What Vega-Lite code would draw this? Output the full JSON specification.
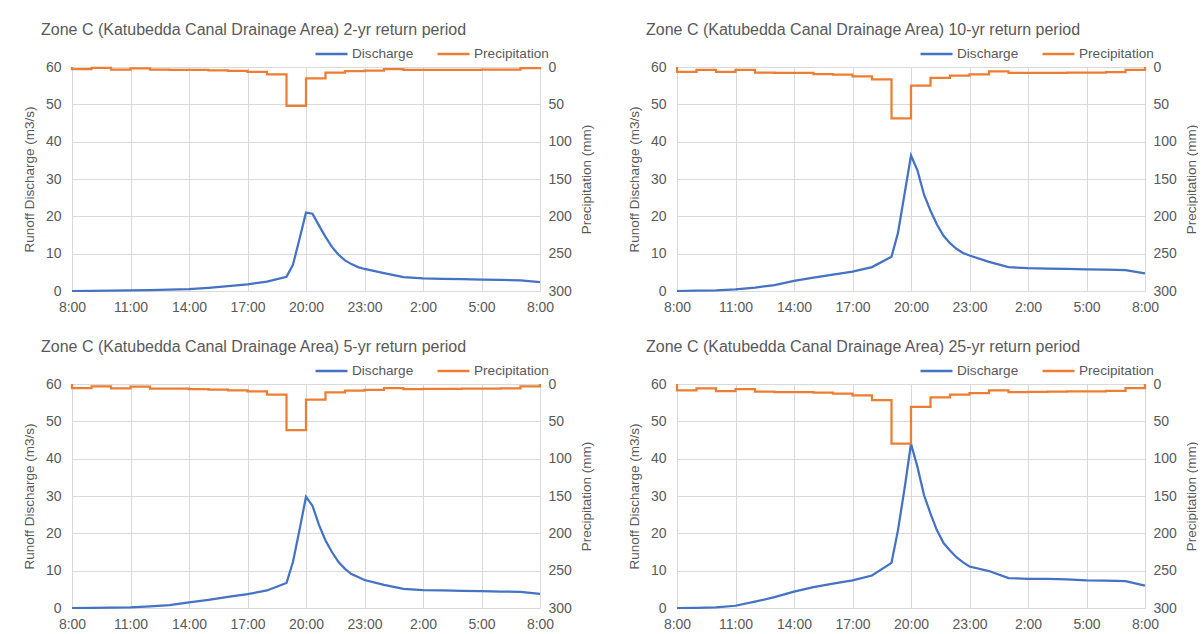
{
  "$schema": "https://vega.github.io/schema/vega-lite/v6.json",
  "padding": {"left": 22, "top": 22, "right": 0, "bottom": 0},
  "background": "white",
  "datasets": {
    "q": [
      {"p":"2-yr","t":0,"q":0},{"p":"2-yr","t":1,"q":0.05},{"p":"2-yr","t":2,"q":0.1},{"p":"2-yr","t":3,"q":0.15},{"p":"2-yr","t":4,"q":0.25},{"p":"2-yr","t":5,"q":0.35},{"p":"2-yr","t":6,"q":0.5},{"p":"2-yr","t":7,"q":0.85},{"p":"2-yr","t":8,"q":1.3},{"p":"2-yr","t":9,"q":1.8},{"p":"2-yr","t":10,"q":2.5},{"p":"2-yr","t":11,"q":3.8},{"p":"2-yr","t":11.33,"q":7.0},{"p":"2-yr","t":11.67,"q":14.0},{"p":"2-yr","t":12,"q":21.0},{"p":"2-yr","t":12.33,"q":20.7},{"p":"2-yr","t":12.67,"q":17.5},{"p":"2-yr","t":13,"q":14.5},{"p":"2-yr","t":13.33,"q":11.8},{"p":"2-yr","t":13.67,"q":9.7},{"p":"2-yr","t":14,"q":8.2},{"p":"2-yr","t":14.33,"q":7.2},{"p":"2-yr","t":14.67,"q":6.4},{"p":"2-yr","t":15,"q":5.9},{"p":"2-yr","t":16,"q":4.8},{"p":"2-yr","t":17,"q":3.7},{"p":"2-yr","t":18,"q":3.4},{"p":"2-yr","t":19,"q":3.25},{"p":"2-yr","t":20,"q":3.15},{"p":"2-yr","t":21,"q":3.05},{"p":"2-yr","t":22,"q":2.95},{"p":"2-yr","t":23,"q":2.85},{"p":"2-yr","t":24,"q":2.4},
      {"p":"5-yr","t":0,"q":0},{"p":"5-yr","t":1,"q":0.05},{"p":"5-yr","t":2,"q":0.1},{"p":"5-yr","t":3,"q":0.2},{"p":"5-yr","t":4,"q":0.45},{"p":"5-yr","t":5,"q":0.8},{"p":"5-yr","t":6,"q":1.5},{"p":"5-yr","t":7,"q":2.2},{"p":"5-yr","t":8,"q":3.0},{"p":"5-yr","t":9,"q":3.7},{"p":"5-yr","t":10,"q":4.7},{"p":"5-yr","t":11,"q":6.7},{"p":"5-yr","t":11.33,"q":12.3},{"p":"5-yr","t":11.67,"q":21.0},{"p":"5-yr","t":12,"q":29.8},{"p":"5-yr","t":12.33,"q":27.4},{"p":"5-yr","t":12.67,"q":22.2},{"p":"5-yr","t":13,"q":18.1},{"p":"5-yr","t":13.33,"q":15.0},{"p":"5-yr","t":13.67,"q":12.3},{"p":"5-yr","t":14,"q":10.5},{"p":"5-yr","t":14.33,"q":9.1},{"p":"5-yr","t":14.67,"q":8.3},{"p":"5-yr","t":15,"q":7.5},{"p":"5-yr","t":16,"q":6.2},{"p":"5-yr","t":17,"q":5.1},{"p":"5-yr","t":18,"q":4.8},{"p":"5-yr","t":19,"q":4.7},{"p":"5-yr","t":20,"q":4.6},{"p":"5-yr","t":21,"q":4.5},{"p":"5-yr","t":22,"q":4.4},{"p":"5-yr","t":23,"q":4.3},{"p":"5-yr","t":24,"q":3.8},
      {"p":"10-yr","t":0,"q":0},{"p":"10-yr","t":1,"q":0.1},{"p":"10-yr","t":2,"q":0.2},{"p":"10-yr","t":3,"q":0.45},{"p":"10-yr","t":4,"q":0.9},{"p":"10-yr","t":5,"q":1.6},{"p":"10-yr","t":6,"q":2.7},{"p":"10-yr","t":7,"q":3.6},{"p":"10-yr","t":8,"q":4.4},{"p":"10-yr","t":9,"q":5.2},{"p":"10-yr","t":10,"q":6.4},{"p":"10-yr","t":11,"q":9.2},{"p":"10-yr","t":11.33,"q":15.5},{"p":"10-yr","t":11.67,"q":26.0},{"p":"10-yr","t":12,"q":36.3},{"p":"10-yr","t":12.33,"q":32.3},{"p":"10-yr","t":12.67,"q":25.8},{"p":"10-yr","t":13,"q":21.5},{"p":"10-yr","t":13.33,"q":17.8},{"p":"10-yr","t":13.67,"q":14.8},{"p":"10-yr","t":14,"q":12.8},{"p":"10-yr","t":14.33,"q":11.3},{"p":"10-yr","t":14.67,"q":10.2},{"p":"10-yr","t":15,"q":9.5},{"p":"10-yr","t":16,"q":7.8},{"p":"10-yr","t":17,"q":6.4},{"p":"10-yr","t":18,"q":6.1},{"p":"10-yr","t":19,"q":6.0},{"p":"10-yr","t":20,"q":5.9},{"p":"10-yr","t":21,"q":5.8},{"p":"10-yr","t":22,"q":5.7},{"p":"10-yr","t":23,"q":5.6},{"p":"10-yr","t":24,"q":4.7},
      {"p":"25-yr","t":0,"q":0},{"p":"25-yr","t":1,"q":0.05},{"p":"25-yr","t":2,"q":0.15},{"p":"25-yr","t":3,"q":0.6},{"p":"25-yr","t":4,"q":1.7},{"p":"25-yr","t":5,"q":2.9},{"p":"25-yr","t":6,"q":4.4},{"p":"25-yr","t":7,"q":5.6},{"p":"25-yr","t":8,"q":6.5},{"p":"25-yr","t":9,"q":7.4},{"p":"25-yr","t":10,"q":8.7},{"p":"25-yr","t":11,"q":12.1},{"p":"25-yr","t":11.33,"q":20.8},{"p":"25-yr","t":11.67,"q":32.0},{"p":"25-yr","t":12,"q":44.0},{"p":"25-yr","t":12.33,"q":37.8},{"p":"25-yr","t":12.67,"q":30.2},{"p":"25-yr","t":13,"q":25.3},{"p":"25-yr","t":13.33,"q":20.8},{"p":"25-yr","t":13.67,"q":17.4},{"p":"25-yr","t":14,"q":15.4},{"p":"25-yr","t":14.33,"q":13.6},{"p":"25-yr","t":14.67,"q":12.2},{"p":"25-yr","t":15,"q":11.1},{"p":"25-yr","t":16,"q":9.9},{"p":"25-yr","t":17,"q":8.0},{"p":"25-yr","t":18,"q":7.8},{"p":"25-yr","t":19,"q":7.8},{"p":"25-yr","t":20,"q":7.7},{"p":"25-yr","t":21,"q":7.4},{"p":"25-yr","t":22,"q":7.3},{"p":"25-yr","t":23,"q":7.2},{"p":"25-yr","t":24,"q":6.0}
    ],
    "r": [
      {"p":"2-yr","t":0,"mm":0},{"p":"2-yr","t":0,"mm":2.7},{"p":"2-yr","t":1,"mm":1.3},{"p":"2-yr","t":2,"mm":3.4},{"p":"2-yr","t":3,"mm":2.0},{"p":"2-yr","t":4,"mm":3.6},{"p":"2-yr","t":5,"mm":4.0},{"p":"2-yr","t":6,"mm":4.0},{"p":"2-yr","t":7,"mm":4.5},{"p":"2-yr","t":8,"mm":5.2},{"p":"2-yr","t":9,"mm":6.5},{"p":"2-yr","t":10,"mm":9.9},{"p":"2-yr","t":11,"mm":52.2},{"p":"2-yr","t":12,"mm":15.2},{"p":"2-yr","t":13,"mm":7.4},{"p":"2-yr","t":14,"mm":5.4},{"p":"2-yr","t":15,"mm":4.8},{"p":"2-yr","t":16,"mm":2.9},{"p":"2-yr","t":17,"mm":3.8},{"p":"2-yr","t":18,"mm":3.8},{"p":"2-yr","t":19,"mm":3.8},{"p":"2-yr","t":20,"mm":3.7},{"p":"2-yr","t":21,"mm":3.6},{"p":"2-yr","t":22,"mm":3.4},{"p":"2-yr","t":23,"mm":1.5},{"p":"2-yr","t":24,"mm":0},
      {"p":"5-yr","t":0,"mm":0},{"p":"5-yr","t":0,"mm":5.4},{"p":"5-yr","t":1,"mm":3.1},{"p":"5-yr","t":2,"mm":5.8},{"p":"5-yr","t":3,"mm":3.6},{"p":"5-yr","t":4,"mm":6.3},{"p":"5-yr","t":5,"mm":6.3},{"p":"5-yr","t":6,"mm":6.7},{"p":"5-yr","t":7,"mm":7.6},{"p":"5-yr","t":8,"mm":8.5},{"p":"5-yr","t":9,"mm":9.9},{"p":"5-yr","t":10,"mm":14.3},{"p":"5-yr","t":11,"mm":61.9},{"p":"5-yr","t":12,"mm":21.0},{"p":"5-yr","t":13,"mm":11.2},{"p":"5-yr","t":14,"mm":9.0},{"p":"5-yr","t":15,"mm":8.0},{"p":"5-yr","t":16,"mm":5.4},{"p":"5-yr","t":17,"mm":6.7},{"p":"5-yr","t":18,"mm":6.5},{"p":"5-yr","t":19,"mm":6.4},{"p":"5-yr","t":20,"mm":6.3},{"p":"5-yr","t":21,"mm":6.2},{"p":"5-yr","t":22,"mm":6.0},{"p":"5-yr","t":23,"mm":3.1},{"p":"5-yr","t":24,"mm":0},
      {"p":"10-yr","t":0,"mm":0},{"p":"10-yr","t":0,"mm":6.5},{"p":"10-yr","t":1,"mm":4.0},{"p":"10-yr","t":2,"mm":6.5},{"p":"10-yr","t":3,"mm":4.0},{"p":"10-yr","t":4,"mm":7.5},{"p":"10-yr","t":5,"mm":8.0},{"p":"10-yr","t":6,"mm":8.0},{"p":"10-yr","t":7,"mm":9.4},{"p":"10-yr","t":8,"mm":10.3},{"p":"10-yr","t":9,"mm":12.5},{"p":"10-yr","t":10,"mm":16.5},{"p":"10-yr","t":11,"mm":68.8},{"p":"10-yr","t":12,"mm":25.0},{"p":"10-yr","t":13,"mm":14.5},{"p":"10-yr","t":14,"mm":11.6},{"p":"10-yr","t":15,"mm":9.9},{"p":"10-yr","t":16,"mm":6.0},{"p":"10-yr","t":17,"mm":8.0},{"p":"10-yr","t":18,"mm":8.0},{"p":"10-yr","t":19,"mm":7.8},{"p":"10-yr","t":20,"mm":7.6},{"p":"10-yr","t":21,"mm":7.4},{"p":"10-yr","t":22,"mm":6.7},{"p":"10-yr","t":23,"mm":4.0},{"p":"10-yr","t":24,"mm":0},
      {"p":"25-yr","t":0,"mm":0},{"p":"25-yr","t":0,"mm":8.5},{"p":"25-yr","t":1,"mm":5.8},{"p":"25-yr","t":2,"mm":9.4},{"p":"25-yr","t":3,"mm":6.7},{"p":"25-yr","t":4,"mm":10.3},{"p":"25-yr","t":5,"mm":10.8},{"p":"25-yr","t":6,"mm":10.8},{"p":"25-yr","t":7,"mm":11.7},{"p":"25-yr","t":8,"mm":13.0},{"p":"25-yr","t":9,"mm":15.2},{"p":"25-yr","t":10,"mm":21.5},{"p":"25-yr","t":11,"mm":79.8},{"p":"25-yr","t":12,"mm":30.5},{"p":"25-yr","t":13,"mm":17.9},{"p":"25-yr","t":14,"mm":14.3},{"p":"25-yr","t":15,"mm":12.1},{"p":"25-yr","t":16,"mm":8.5},{"p":"25-yr","t":17,"mm":10.8},{"p":"25-yr","t":18,"mm":10.5},{"p":"25-yr","t":19,"mm":10.2},{"p":"25-yr","t":20,"mm":10.0},{"p":"25-yr","t":21,"mm":9.8},{"p":"25-yr","t":22,"mm":9.2},{"p":"25-yr","t":23,"mm":5.4},{"p":"25-yr","t":24,"mm":0}
    ]
  },
  "columns": 2,
  "spacing": {"column": 34, "row": 25},
  "resolve": {"scale": {"color": "independent"}},
  "concat": [
    {
      "title": "Zone C (Katubedda Canal Drainage Area)  2-yr return period",
      "width": 468, "height": 224,
      "resolve": {"scale": {"y": "independent"}},
      "layer": [
        {"data": {"name": "q"}, "transform": [{"filter": "datum.p === '2-yr'"}],
         "mark": {"type": "line", "strokeWidth": 2.25},
         "encoding": {
           "x": {"field": "t", "type": "quantitative", "scale": {"domain": [0, 24], "nice": false}, "axis": {"values": [0,3,6,9,12,15,18,21,24], "labelExpr": "((datum.value + 8) % 24) + ':00'", "title": null}},
           "y": {"field": "q", "type": "quantitative", "scale": {"domain": [0, 60], "nice": false}, "axis": {"values": [0,10,20,30,40,50,60], "title": "Runoff Discharge (m3/s)"}},
           "color": {"datum": "Discharge", "type": "nominal", "scale": {"domain": ["Discharge", "Precipitation"], "range": ["#4472c4", "#ed7d31"]}, "legend": {"title": null}}
         }},
        {"data": {"name": "r"}, "transform": [{"filter": "datum.p === '2-yr'"}],
         "mark": {"type": "line", "strokeWidth": 2.25, "interpolate": "step-after"},
         "encoding": {
           "x": {"field": "t", "type": "quantitative"},
           "y": {"field": "mm", "type": "quantitative", "scale": {"domain": [0, 300], "nice": false, "reverse": true}, "axis": {"orient": "right", "values": [0,50,100,150,200,250,300], "grid": false, "title": "Precipitation (mm)", "titleAngle": 270, "titleBaseline": "top"}},
           "color": {"datum": "Precipitation", "type": "nominal"}
         }}
      ]
    },
    {
      "title": "Zone C (Katubedda Canal Drainage Area)  10-yr return period",
      "width": 468, "height": 224,
      "resolve": {"scale": {"y": "independent"}},
      "layer": [
        {"data": {"name": "q"}, "transform": [{"filter": "datum.p === '10-yr'"}],
         "mark": {"type": "line", "strokeWidth": 2.25},
         "encoding": {
           "x": {"field": "t", "type": "quantitative", "scale": {"domain": [0, 24], "nice": false}, "axis": {"values": [0,3,6,9,12,15,18,21,24], "labelExpr": "((datum.value + 8) % 24) + ':00'", "title": null}},
           "y": {"field": "q", "type": "quantitative", "scale": {"domain": [0, 60], "nice": false}, "axis": {"values": [0,10,20,30,40,50,60], "title": "Runoff Discharge (m3/s)"}},
           "color": {"datum": "Discharge", "type": "nominal", "scale": {"domain": ["Discharge", "Precipitation"], "range": ["#4472c4", "#ed7d31"]}, "legend": {"title": null}}
         }},
        {"data": {"name": "r"}, "transform": [{"filter": "datum.p === '10-yr'"}],
         "mark": {"type": "line", "strokeWidth": 2.25, "interpolate": "step-after"},
         "encoding": {
           "x": {"field": "t", "type": "quantitative"},
           "y": {"field": "mm", "type": "quantitative", "scale": {"domain": [0, 300], "nice": false, "reverse": true}, "axis": {"orient": "right", "values": [0,50,100,150,200,250,300], "grid": false, "title": "Precipitation (mm)", "titleAngle": 270, "titleBaseline": "top"}},
           "color": {"datum": "Precipitation", "type": "nominal"}
         }}
      ]
    },
    {
      "title": "Zone C (Katubedda Canal Drainage Area)  5-yr return period",
      "width": 468, "height": 224,
      "resolve": {"scale": {"y": "independent"}},
      "layer": [
        {"data": {"name": "q"}, "transform": [{"filter": "datum.p === '5-yr'"}],
         "mark": {"type": "line", "strokeWidth": 2.25},
         "encoding": {
           "x": {"field": "t", "type": "quantitative", "scale": {"domain": [0, 24], "nice": false}, "axis": {"values": [0,3,6,9,12,15,18,21,24], "labelExpr": "((datum.value + 8) % 24) + ':00'", "title": null}},
           "y": {"field": "q", "type": "quantitative", "scale": {"domain": [0, 60], "nice": false}, "axis": {"values": [0,10,20,30,40,50,60], "title": "Runoff Discharge (m3/s)"}},
           "color": {"datum": "Discharge", "type": "nominal", "scale": {"domain": ["Discharge", "Precipitation"], "range": ["#4472c4", "#ed7d31"]}, "legend": {"title": null}}
         }},
        {"data": {"name": "r"}, "transform": [{"filter": "datum.p === '5-yr'"}],
         "mark": {"type": "line", "strokeWidth": 2.25, "interpolate": "step-after"},
         "encoding": {
           "x": {"field": "t", "type": "quantitative"},
           "y": {"field": "mm", "type": "quantitative", "scale": {"domain": [0, 300], "nice": false, "reverse": true}, "axis": {"orient": "right", "values": [0,50,100,150,200,250,300], "grid": false, "title": "Precipitation (mm)", "titleAngle": 270, "titleBaseline": "top"}},
           "color": {"datum": "Precipitation", "type": "nominal"}
         }}
      ]
    },
    {
      "title": "Zone C (Katubedda Canal Drainage Area)  25-yr return period",
      "width": 468, "height": 224,
      "resolve": {"scale": {"y": "independent"}},
      "layer": [
        {"data": {"name": "q"}, "transform": [{"filter": "datum.p === '25-yr'"}],
         "mark": {"type": "line", "strokeWidth": 2.25},
         "encoding": {
           "x": {"field": "t", "type": "quantitative", "scale": {"domain": [0, 24], "nice": false}, "axis": {"values": [0,3,6,9,12,15,18,21,24], "labelExpr": "((datum.value + 8) % 24) + ':00'", "title": null}},
           "y": {"field": "q", "type": "quantitative", "scale": {"domain": [0, 60], "nice": false}, "axis": {"values": [0,10,20,30,40,50,60], "title": "Runoff Discharge (m3/s)"}},
           "color": {"datum": "Discharge", "type": "nominal", "scale": {"domain": ["Discharge", "Precipitation"], "range": ["#4472c4", "#ed7d31"]}, "legend": {"title": null}}
         }},
        {"data": {"name": "r"}, "transform": [{"filter": "datum.p === '25-yr'"}],
         "mark": {"type": "line", "strokeWidth": 2.25, "interpolate": "step-after"},
         "encoding": {
           "x": {"field": "t", "type": "quantitative"},
           "y": {"field": "mm", "type": "quantitative", "scale": {"domain": [0, 300], "nice": false, "reverse": true}, "axis": {"orient": "right", "values": [0,50,100,150,200,250,300], "grid": false, "title": "Precipitation (mm)", "titleAngle": 270, "titleBaseline": "top"}},
           "color": {"datum": "Precipitation", "type": "nominal"}
         }}
      ]
    }
  ],
  "config": {
    "font": "Liberation Sans",
    "view": {"stroke": null},
    "axis": {"labelColor": "#595959", "titleColor": "#595959", "labelFontSize": 14, "titleFontSize": 13.5, "titleFontWeight": "normal", "gridColor": "#d9d9d9", "gridWidth": 1, "domain": false, "ticks": false, "labelPadding": 10, "titlePadding": 9, "labelFlush": false},
    "axisX": {"labelPadding": 9},
    "axisLeft": {"labelPadding": 11},
    "axisRight": {"labelPadding": 8, "titlePadding": 8},
    "title": {"fontSize": 16, "fontWeight": "normal", "color": "#595959", "anchor": "start", "frame": "group", "dx": -31, "dy": 8, "offset": 6},
    "legend": {"orient": "none", "legendX": 242, "legendY": -31, "direction": "horizontal", "symbolType": "stroke", "symbolSize": 1024, "symbolStrokeWidth": 2.5, "labelFontSize": 13.6, "labelColor": "#595959", "labelOffset": 3, "columnPadding": 18, "padding": 0}
  }
}
